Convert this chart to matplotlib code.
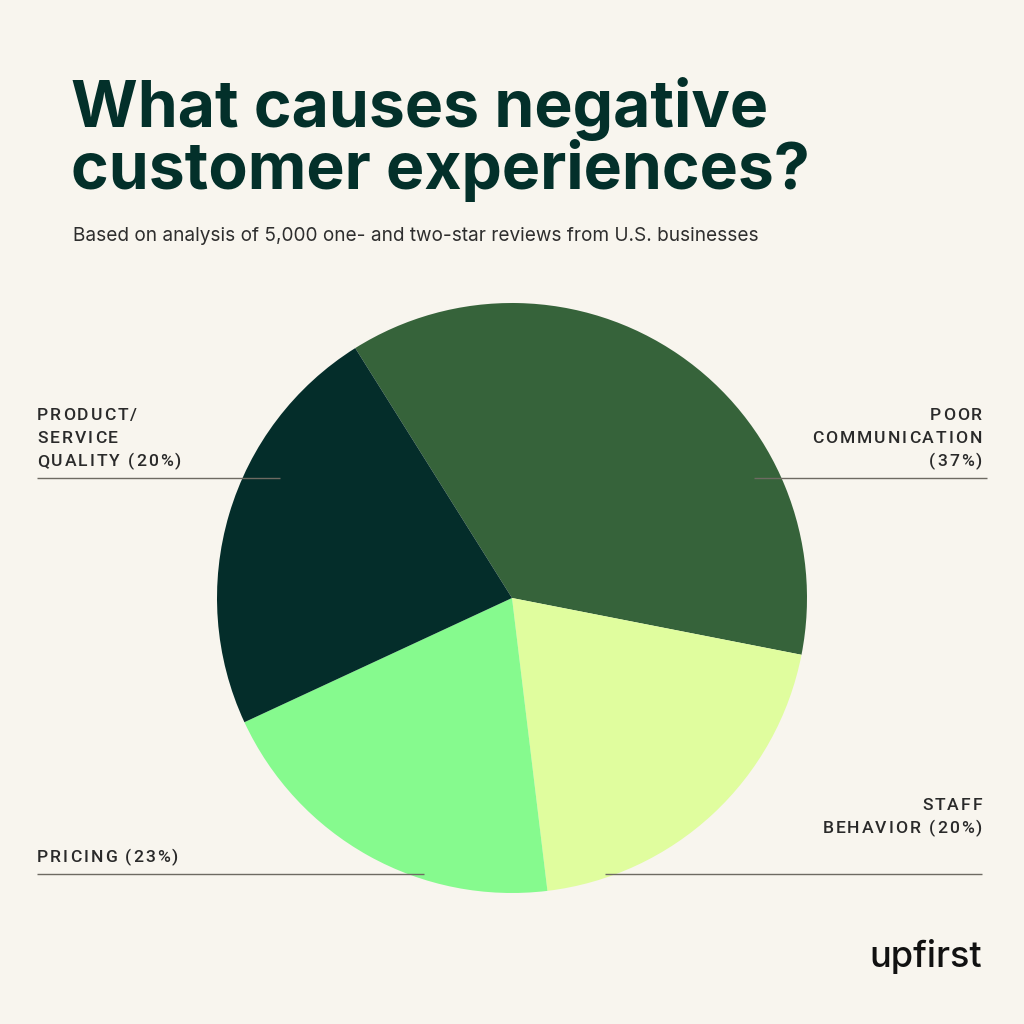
import matplotlib
matplotlib.use("Agg")
import matplotlib.pyplot as plt
from matplotlib.font_manager import FontProperties
from matplotlib.textpath import TextToPath

# ---- data ----
categories = ["Poor communication", "Staff behavior", "Pricing", "Product/service quality"]
slice_values = [37, 20, 20, 23]          # slice sizes as drawn (clockwise from top-left)
slice_colors = ["#36633A", "#E0FD9E", "#86FA8E", "#042D2A"]
label_texts = {
    "Poor communication": ["POOR", "COMMUNICATION", "(37%)"],
    "Staff behavior": ["STAFF", "BEHAVIOR (20%)"],
    "Pricing": ["PRICING (23%)"],
    "Product/service quality": ["PRODUCT/", "SERVICE", "QUALITY (20%)"],
}
title_lines = ["What causes negative", "customer experiences?"]
subtitle = "Based on analysis of 5,000 one- and two-star reviews from U.S. businesses"
brand = "upfirst"

BG = "#F8F5EE"
DARK = "#03302A"
W = H = 1024
DPI = 100

fig = plt.figure(figsize=(W / DPI, H / DPI), dpi=DPI, facecolor=BG)

# overlay axes in pixel coordinates (y downwards)
ov = fig.add_axes([0, 0, 1, 1], zorder=3)
ov.set_xlim(0, W)
ov.set_ylim(H, 0)
ov.axis("off")
ov.patch.set_alpha(0)

# pie axes
cx, cy, r = 512, 598, 295
pie_ax = fig.add_axes([(cx - r) / W, (H - cy - r) / H, 2 * r / W, 2 * r / H], zorder=1)
pie_ax.pie(slice_values, colors=slice_colors, startangle=122.1, counterclock=False,
           radius=1.0, wedgeprops=dict(linewidth=0))
pie_ax.set_xlim(-1, 1)
pie_ax.set_ylim(-1, 1)
pie_ax.set_aspect("equal")
pie_ax.axis("off")

t2p = TextToPath()


def width_px(s, fp):
    if not s:
        return 0.0
    w, _, _ = t2p.get_text_width_height_descent(s, fp, ismath=False)
    return w * DPI / 72.0


def spaced_text(x, y, s, fp, color, track, align="left"):
    total = width_px(s, fp) + track * (len(s) - 1)
    x0 = x if align == "left" else x - total
    for i, ch in enumerate(s):
        if ch == " ":
            continue
        xi = x0 + width_px(s[:i], fp) + track * i
        ov.text(xi, y, ch, fontproperties=fp, color=color, ha="left", va="baseline")


# title
for i, line in enumerate(title_lines):
    ov.text(71, 127 + i * 62, line, fontsize=46.3, fontfamily="Inter", fontweight="bold",
            color=DARK, ha="left", va="baseline")

ov.text(73, 241, subtitle, fontsize=13.7, fontfamily="Inter", color="#2E2E2E",
        ha="left", va="baseline")

lab_fp = FontProperties(family="Roboto", weight="medium", size=12.6)
TRACK = 2.0
LINE_H = 23
label_pos = {
    "Product/service quality": (37, 466, "left"),
    "Poor communication": (982, 466, "right"),
    "Pricing": (37, 862, "left"),
    "Staff behavior": (982, 833, "right"),
}
for cat in categories:
    x, ylast, al = label_pos[cat]
    lines = label_texts[cat]
    for j, ln in enumerate(lines):
        spaced_text(x, ylast - (len(lines) - 1 - j) * LINE_H, ln, lab_fp, "#2A2A2A", TRACK, align=al)

# leader lines
leaders = [((37, 280), 478), ((754, 987), 478), ((37, 424), 874), ((605, 982), 874)]
for (x0, x1), y in leaders:
    ov.plot([x0, x1], [y, y], color="#6E6A62", lw=1.0, solid_capstyle="butt")

# brand
ov.text(982, 967, brand, fontsize=26, fontfamily="Inter", fontweight="medium",
        color="#111111", ha="right", va="baseline")

fig.savefig("out.png", dpi=DPI, facecolor=BG)
